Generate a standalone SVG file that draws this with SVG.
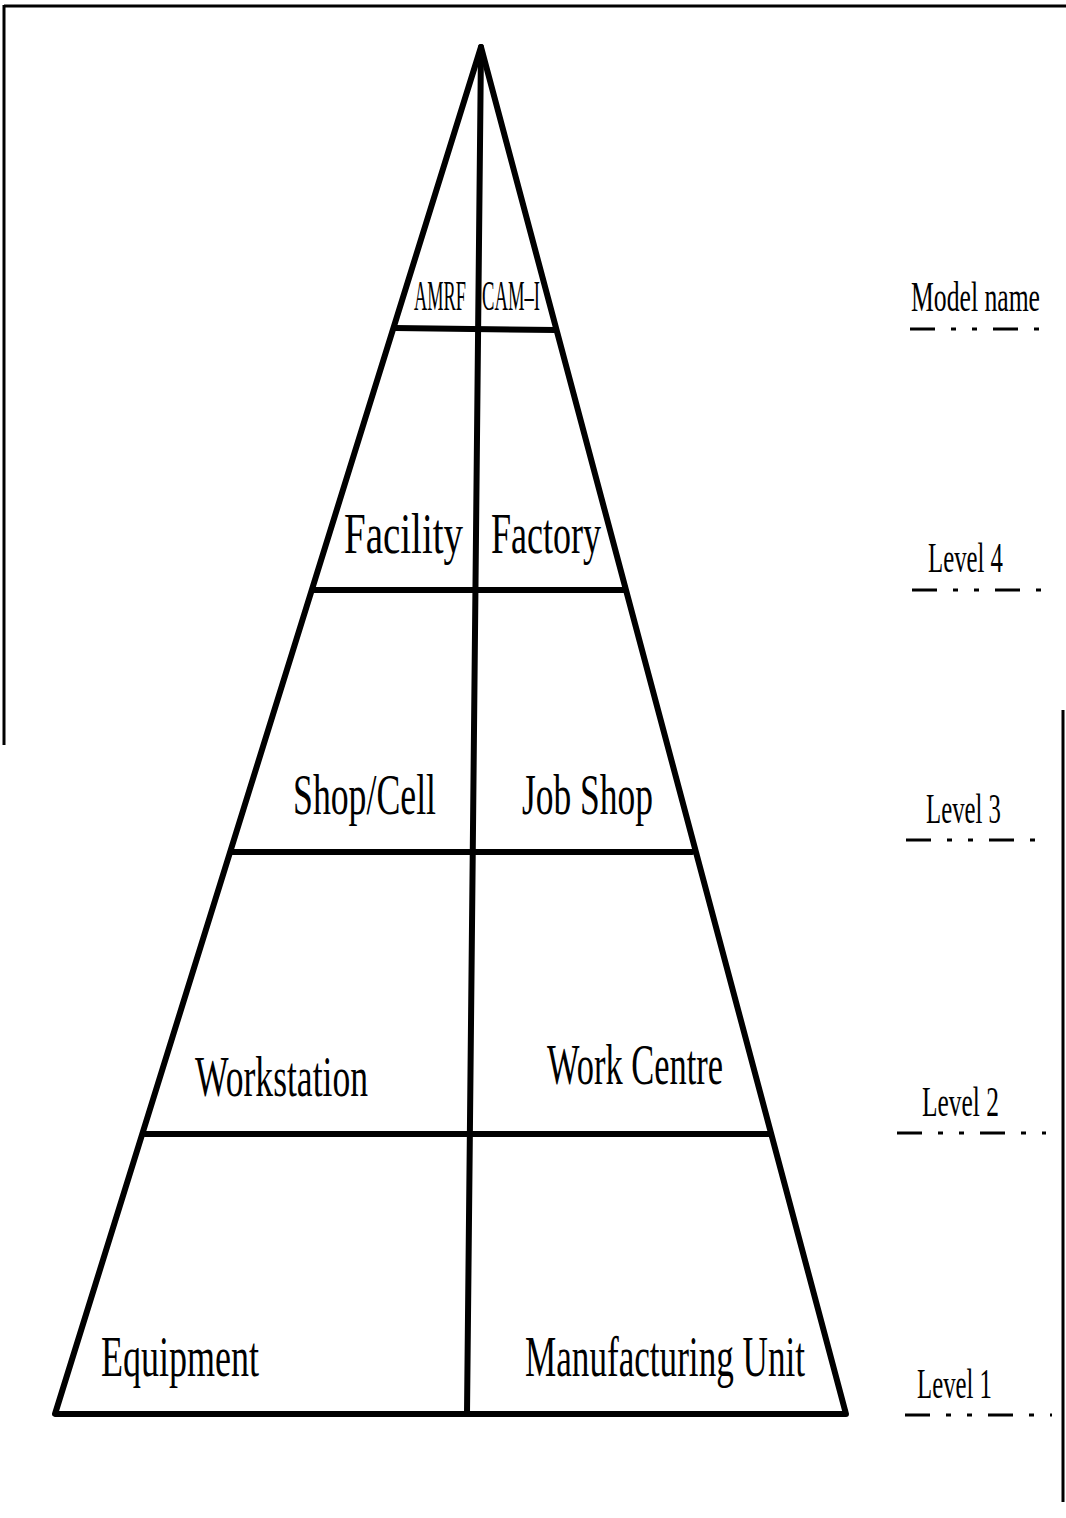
<svg xmlns="http://www.w3.org/2000/svg" width="1066" height="1518" viewBox="0 0 1066 1518">
<style>
.frame{stroke:#000;stroke-width:3;fill:none}
.edge{stroke:#000;stroke-width:6;fill:none;stroke-linecap:round;stroke-linejoin:round}
.lbl{font-family:"Liberation Serif","DejaVu Serif",serif;fill:#000}
.big{font-size:57px}
.small{font-size:42px}
.side{font-size:42px}
.dash{stroke:#000;stroke-width:3;stroke-dasharray:25 16 5 16 5 16}
</style>
<rect width="1066" height="1518" fill="#fff"/>
<g id="frame">
<line class="frame" x1="4" y1="6" x2="1066" y2="6"/>
<line class="frame" x1="4" y1="5" x2="4" y2="745"/>
<line class="frame" x1="1063" y1="710" x2="1063" y2="1502"/>
</g>
<g id="connectors">
<polygon class="edge" points="481,47 55,1414 846,1414"/>
<line class="edge" x1="481" y1="47" x2="467" y2="1414"/>
<line class="edge" x1="395" y1="328" x2="555" y2="330"/>
<line class="edge" x1="313" y1="590" x2="625" y2="590"/>
<line class="edge" x1="232" y1="852" x2="692" y2="852"/>
<line class="edge" x1="145" y1="1134" x2="769" y2="1134"/>
</g>
<g id="node-amrf"><text class="lbl small" x="414" y="310" textLength="52" lengthAdjust="spacingAndGlyphs">AMRF</text></g>
<g id="node-cami"><text class="lbl small" x="482" y="310" textLength="58" lengthAdjust="spacingAndGlyphs">CAM–I</text></g>
<g id="node-facility"><text class="lbl big" x="344" y="553" textLength="119" lengthAdjust="spacingAndGlyphs">Facility</text></g>
<g id="node-factory"><text class="lbl big" x="491" y="553" textLength="110" lengthAdjust="spacingAndGlyphs">Factory</text></g>
<g id="node-shopcell"><text class="lbl big" x="293" y="814" textLength="143" lengthAdjust="spacingAndGlyphs">Shop/Cell</text></g>
<g id="node-jobshop"><text class="lbl big" x="522" y="814" textLength="131" lengthAdjust="spacingAndGlyphs">Job Shop</text></g>
<g id="node-workstation"><text class="lbl big" x="195" y="1096" textLength="173" lengthAdjust="spacingAndGlyphs">Workstation</text></g>
<g id="node-workcentre"><text class="lbl big" x="547" y="1084" textLength="176" lengthAdjust="spacingAndGlyphs">Work Centre</text></g>
<g id="node-equipment"><text class="lbl big" x="101" y="1376" textLength="158" lengthAdjust="spacingAndGlyphs">Equipment</text></g>
<g id="node-mfgunit"><text class="lbl big" x="525" y="1376" textLength="280" lengthAdjust="spacingAndGlyphs">Manufacturing Unit</text></g>
<g id="node-modelname">
<text class="lbl side" x="911" y="311" textLength="129" lengthAdjust="spacingAndGlyphs">Model name</text>
<line class="dash" x1="910" y1="329" x2="1040" y2="329"/>
</g>
<g id="node-level4">
<text class="lbl side" x="928" y="572" textLength="75" lengthAdjust="spacingAndGlyphs">Level 4</text>
<line class="dash" x1="912" y1="590" x2="1042" y2="590"/>
</g>
<g id="node-level3">
<text class="lbl side" x="926" y="823" textLength="75" lengthAdjust="spacingAndGlyphs">Level 3</text>
<line class="dash" x1="906" y1="840" x2="1050" y2="840"/>
</g>
<g id="node-level2">
<text class="lbl side" x="922" y="1116" textLength="77" lengthAdjust="spacingAndGlyphs">Level 2</text>
<line class="dash" x1="897" y1="1133" x2="1046" y2="1133"/>
</g>
<g id="node-level1">
<text class="lbl side" x="917" y="1398" textLength="75" lengthAdjust="spacingAndGlyphs">Level 1</text>
<line class="dash" x1="905" y1="1415" x2="1052" y2="1415"/>
</g>
</svg>
